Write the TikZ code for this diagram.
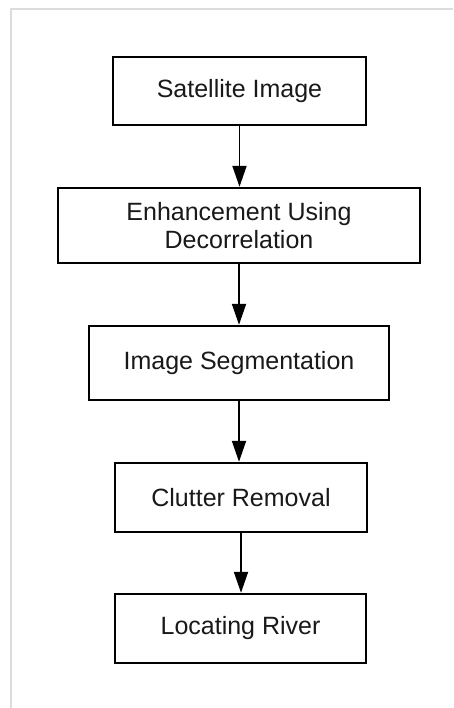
\documentclass[tikz,border=0pt]{standalone}
\usepackage{fontspec}
\setmainfont{Liberation Sans}
\usetikzlibrary{arrows.meta}
\definecolor{framegray}{HTML}{DCDCDC}
\tikzset{
  stepbox/.style={draw=black, line width=2.4pt, fill=white, inner sep=0pt, align=center,
    font=\fontsize{25}{28}\selectfont, text=black!90},
  flowarrow/.style={line width=1.9pt, -{Triangle[length=21pt, width=14pt]}}
}
\begin{document}
\begin{tikzpicture}[x=1pt, y=1pt]
\useasboundingbox (0,0) rectangle (453,-708);
\fill[white] (0,0) rectangle (453,-708);
\draw[framegray, line width=2pt] (11,-708) -- (11,-9) -- (453,-9);

\node[stepbox, minimum width=253pt, minimum height=68pt] (b1) at (239.5,-91) {Satellite Image};
\node[stepbox, minimum width=362pt, minimum height=75pt] (b2) at (239,-225.5) {Enhancement Using\\Decorrelation};
\node[stepbox, minimum width=300pt, minimum height=74pt] (b3) at (239,-363) {Image Segmentation};
\node[stepbox, minimum width=252pt, minimum height=69pt] (b4) at (241,-497.5) {Clutter Removal};
\node[stepbox, minimum width=251pt, minimum height=69pt] (b5) at (240.5,-628.5) {Locating River};

\draw[flowarrow] (b1.south) -- (b1.south |- b2.north);
\draw[flowarrow] (b2.south) -- (b2.south |- b3.north);
\draw[flowarrow] (b3.south) -- (b3.south |- b4.north);
\draw[flowarrow] (b4.south) -- (b4.south |- b5.north);
\end{tikzpicture}
\end{document}
